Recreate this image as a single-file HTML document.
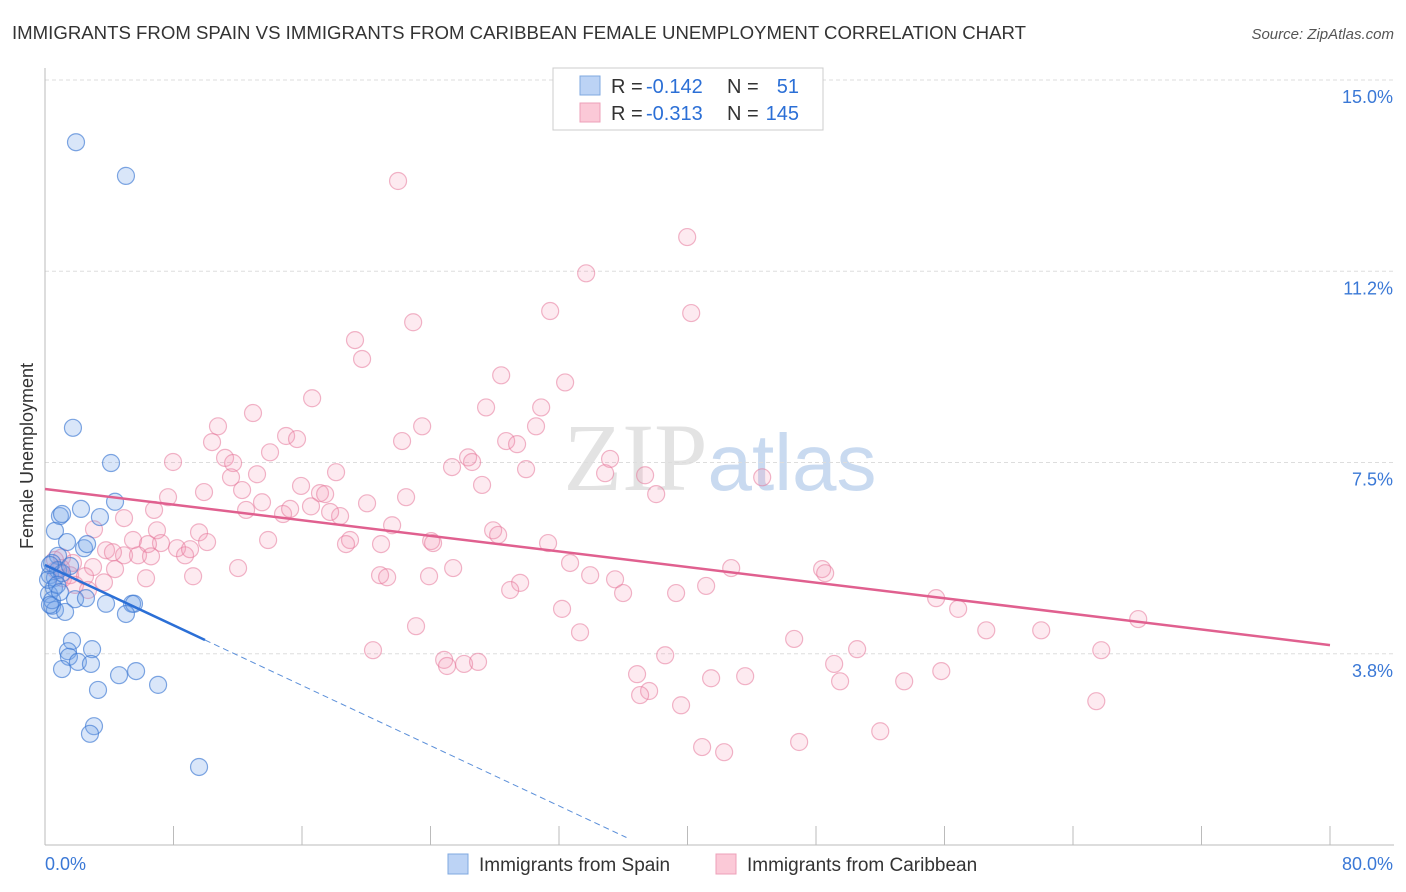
<!DOCTYPE html>
<html><head><meta charset="utf-8"><style>
body{margin:0;background:#fff;font-family:"Liberation Sans",sans-serif}
</style></head><body>
<svg id="chart" width="1406" height="892" xmlns="http://www.w3.org/2000/svg" style="display:block">
<text x="12" y="39" font-size="18.6" fill="#333" textLength="1014" lengthAdjust="spacingAndGlyphs">IMMIGRANTS FROM SPAIN VS IMMIGRANTS FROM CARIBBEAN FEMALE UNEMPLOYMENT CORRELATION CHART</text>
<text x="1394" y="39" font-size="15" fill="#555" font-style="italic" text-anchor="end">Source: ZipAtlas.com</text>
<text x="720" y="490" font-size="96" fill="#e3e3e3" text-anchor="middle" font-family="Liberation Serif,serif">ZIP<tspan fill="#c9daf0" font-family="Liberation Sans,sans-serif" font-size="80">atlas</tspan></text>
<g id="grid"></g>
<g id="axes"></g>
<g id="pts"></g>
<g id="lines"></g>
<text transform="translate(33,456) rotate(-90)" font-size="18" fill="#333" text-anchor="middle">Female Unemployment</text>
<g>
<rect x="553" y="68" width="270" height="62" fill="#fff" stroke="#ccc"/>
<rect x="580" y="76" width="20" height="19" fill="#bcd3f5" stroke="#7fa8e0"/>
<rect x="580" y="103" width="20" height="19" fill="#fbc9d7" stroke="#eea0b8"/>
<text x="611" y="93" font-size="20" fill="#333">R =</text>
<text x="646" y="93" font-size="20" fill="#2b6fd6">-0.142</text>
<text x="727" y="93" font-size="20" fill="#333">N =</text>
<text x="799" y="93" font-size="20" fill="#2b6fd6" text-anchor="end">51</text>
<text x="611" y="120" font-size="20" fill="#333">R =</text>
<text x="646" y="120" font-size="20" fill="#2b6fd6">-0.313</text>
<text x="727" y="120" font-size="20" fill="#333">N =</text>
<text x="799" y="120" font-size="20" fill="#2b6fd6" text-anchor="end">145</text>
</g>
<g>
<rect x="448" y="854" width="20" height="20" fill="#bcd3f5" stroke="#7fa8e0"/>
<text x="479" y="871" font-size="19" fill="#333">Immigrants from Spain</text>
<rect x="716" y="854" width="20" height="20" fill="#fbc9d7" stroke="#eea0b8"/>
<text x="747" y="871" font-size="19" fill="#333">Immigrants from Caribbean</text>
</g>
</svg>
<script>
const blueX=[1.93,5.04,1.74,4.11,4.36,2.24,0.93,1.06,3.42,0.62,1.37,2.43,2.62,0.81,0.44,0.31,0.62,0.81,1.06,1.56,0.56,0.25,1.87,2.55,3.80,5.42,5.54,5.04,0.44,0.62,1.25,0.44,1.68,1.43,1.49,2.05,2.93,2.86,1.06,4.61,5.67,7.04,3.30,3.05,2.80,9.59,0.31,0.19,0.75,0.93,0.31];
const blueY=[13.78,13.12,8.18,7.49,6.73,6.59,6.45,6.49,6.43,6.16,5.94,5.82,5.90,5.67,5.53,5.29,5.24,5.39,5.33,5.47,5.04,4.92,4.82,4.84,4.73,4.73,4.73,4.53,4.69,4.61,4.57,4.80,4.00,3.80,3.69,3.59,3.84,3.55,3.45,3.33,3.41,3.14,3.04,2.33,2.18,1.53,5.49,5.20,5.10,4.96,4.71];
const pinkX=[21.98,39.98,33.69,22.92,31.45,40.23,19.30,19.74,28.40,32.38,16.63,27.46,30.89,12.95,10.77,23.48,30.57,15.01,15.69,10.40,22.23,28.71,29.39,11.21,11.71,26.34,26.59,25.34,35.18,7.97,44.65,18.12,34.87,37.36,29.95,13.20,14.01,11.58,12.27,15.94,27.21,9.90,7.66,17.12,38.05,22.48,13.51,17.44,20.05,12.52,6.79,14.82,16.56,4.92,18.37,15.26,17.75,3.05,27.90,21.61,9.59,6.97,28.21,13.89,5.48,7.22,10.09,6.41,24.04,24.16,18.99,31.32,18.74,20.92,8.22,8.72,3.80,9.03,4.92,4.23,5.79,6.60,2.99,32.69,4.36,12.02,25.41,42.72,48.38,48.57,20.86,21.30,23.91,33.94,35.49,9.22,3.67,1.06,1.74,0.68,1.12,1.56,1.87,2.49,1.00,0.62,29.58,28.96,41.16,35.99,39.29,55.48,56.85,32.19,23.10,33.31,58.60,62.02,68.06,46.64,20.42,38.61,50.56,65.76,24.85,25.03,26.09,26.96,49.13,36.86,41.47,43.59,49.50,53.49,55.80,37.61,37.05,39.60,65.45,52.00,40.91,42.28,46.95,6.29,2.68];
const pinkY=[13.02,11.92,11.21,10.25,10.47,10.43,9.90,9.53,9.21,9.07,8.76,8.58,8.58,8.47,8.21,8.21,8.21,8.02,7.96,7.90,7.92,7.92,7.86,7.59,7.49,7.60,7.51,7.41,7.57,7.51,7.21,7.31,7.29,7.25,7.37,7.27,7.70,7.21,6.96,7.04,7.06,6.92,6.82,6.90,6.88,6.82,6.72,6.88,6.70,6.57,6.57,6.49,6.64,6.41,6.45,6.59,6.53,6.19,6.17,6.27,6.13,6.17,6.08,5.98,5.98,5.92,5.94,5.90,5.96,5.92,5.98,5.92,5.90,5.90,5.82,5.68,5.78,5.80,5.68,5.74,5.68,5.66,5.45,5.53,5.41,5.43,5.43,5.43,5.41,5.33,5.29,5.25,5.27,5.29,5.21,5.27,5.15,5.64,5.53,5.39,5.23,5.29,5.10,5.27,5.43,5.59,5.14,5.00,5.08,4.94,4.94,4.84,4.63,4.63,4.29,4.17,4.21,4.21,4.43,4.04,3.82,3.72,3.84,3.82,3.63,3.51,3.55,3.59,3.55,3.35,3.27,3.31,3.21,3.21,3.41,3.02,2.94,2.74,2.82,2.23,1.92,1.82,2.02,5.23,5.00];
const yTicks=[3.75,7.5,11.25,15.0];
const yTickLabels=["3.8%","7.5%","11.2%","15.0%"];
const xTicks=[0,8,16,24,32,40,48,56,64,72,80];
const xLabels=["0.0%","80.0%"];
const pinkTrend=[6.98,3.92];
const blueTrend=[5.49,-0.1476];
const blueSolidEnd=9.96;
const X=v=>45+v*16.0625, Y=v=>845-v*51.0;
const NS="http://www.w3.org/2000/svg";
function mk(tag,attrs,parent){const e=document.createElementNS(NS,tag);for(const k in attrs)e.setAttribute(k,attrs[k]);document.getElementById(parent).appendChild(e);return e;}
yTicks.forEach((t,i)=>{
  const g=mk('line',{x1:45,x2:1394,y1:Y(t),y2:Y(t),stroke:'#ddd','stroke-dasharray':'4,3'},'grid');
  
  
  const l=mk('text',{x:1393,y:Y(t)+23,'font-size':18,fill:'#3a78d6','text-anchor':'end'},'grid');
  l.textContent=yTickLabels[i];
  
  
});
const ax=mk('line',{x1:45,x2:45,y1:68,y2:845,stroke:'#bbb'},'axes');


const bx=mk('line',{x1:45,x2:1394,y1:845,y2:845,stroke:'#bbb'},'axes');


xTicks.forEach(t=>{const k=mk('line',{x1:X(t),x2:X(t),y1:826,y2:845,stroke:'#bbb'},'axes');
  
  });
[[0,'start',45],[80,'end',1393]].forEach((a,i)=>{const t=mk('text',{x:a[2],y:870,'font-size':18,fill:'#3a78d6','text-anchor':a[1]},'axes');t.textContent=xLabels[i];
  
  });
pinkX.forEach((x,i)=>{const c=mk('circle',{cx:X(x),cy:Y(pinkY[i]),r:8.5,fill:'rgba(245,150,180,0.2)',stroke:'rgba(230,120,155,0.55)','stroke-width':1.2},'pts');
  
  });
blueX.forEach((x,i)=>{const c=mk('circle',{cx:X(x),cy:Y(blueY[i]),r:8.5,fill:'rgba(120,165,235,0.28)',stroke:'rgba(60,120,210,0.65)','stroke-width':1.2},'pts');
  
  });
const pl=mk('line',{x1:X(0),y1:Y(pinkTrend[0]),x2:X(80),y2:Y(pinkTrend[1]),stroke:'#e0608f','stroke-width':2.5},'lines');


const bl=mk('line',{x1:X(0),y1:Y(blueTrend[0]),x2:X(blueSolidEnd),y2:Y(blueTrend[0]+blueTrend[1]*blueSolidEnd),stroke:'#2b6fd6','stroke-width':2.5},'lines');


const xe=36.2;
const bd=mk('line',{x1:X(blueSolidEnd),y1:Y(blueTrend[0]+blueTrend[1]*blueSolidEnd),x2:X(xe),y2:Y(blueTrend[0]+blueTrend[1]*xe),stroke:'#5b8fd9','stroke-width':1,'stroke-dasharray':'6,4'},'lines');


</script>
</body></html>
